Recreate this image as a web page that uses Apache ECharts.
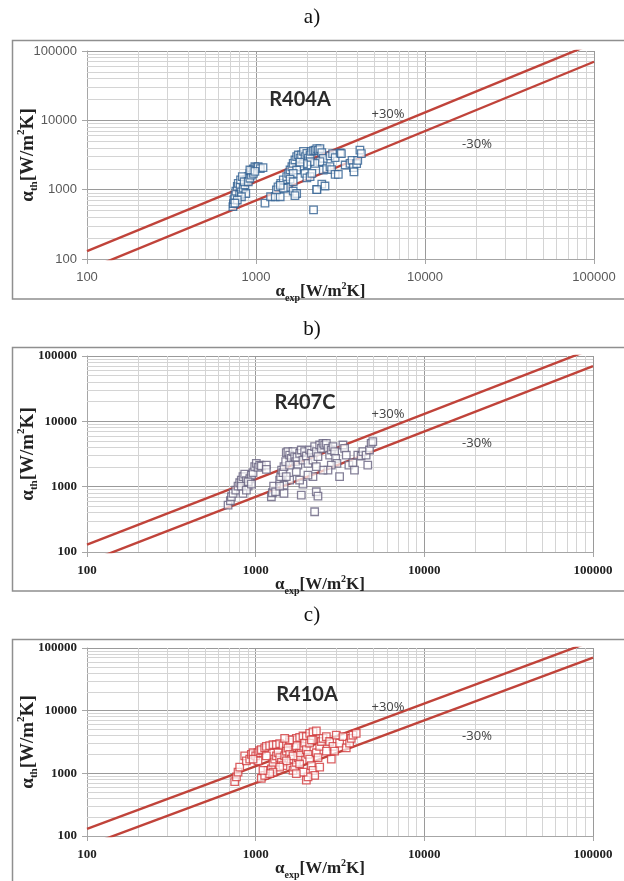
<!DOCTYPE html>
<html>
<head>
<meta charset="utf-8">
<script src="https://cdn.jsdelivr.net/npm/echarts@6/dist/echarts.min.js"></script>
<style>
  html, body { margin: 0; padding: 0; background: #fff; }
  #chart { width: 624px; height: 881px; }
</style>
</head>
<body>
<div id="chart"></div>
<script>
// axis ticks (both axes, log10)
var tickValues = [100, 1000, 10000, 100000];
var minorFactors = [2, 3, 4, 5, 6, 7, 8, 9];
// deviation bands
var bandFactors = [1.3, 0.7];
var bandLabels = ["+30%", "-30%"];
var panelLetters = ["a)", "b)", "c)"];
var refrigerants = ["R404A", "R407C", "R410A"];

// [alpha_exp, alpha_th]
var r404a = [
  [730,570],[735,630],[740,720],[750,830],[760,950],[775,1110],[785,1230],[805,1100],[800,840],[820,930],
  [840,1050],[860,1170],[880,1380],[900,1540],[920,1720],[940,1840],[965,2000],[985,2140],[1010,2080],[1030,2140],
  [1060,2010],[1100,2080],[810,1380],[830,1540],[850,1300],[900,1300],[920,1460],[940,1620],[965,1720],[870,880],
  [820,790],[775,710],[750,640],[920,1920],[985,1840],
  [1130,640],[1220,790],[1300,790],[1390,790],[1320,990],[1350,1100],[1400,1230],[1450,1380],[1480,1050],[1520,1540],
  [1560,1720],[1590,1920],[1630,2140],[1660,2390],[1700,2680],[1740,2990],[1780,3160],[1820,2850],[1860,3170],[1910,3560],
  [1950,3000],[2000,3340],[2040,2850],[2090,3170],[2130,3560],[2190,3640],[2240,3720],[2290,3900],[2340,3720],[2390,3900],
  [2450,3420],[2500,2820],[2390,2530],[2230,2390],[2090,2540],[2000,2280],[1910,2380],[1820,2140],[1740,1920],[1660,1720],
  [1590,1420],[1550,1080],[1660,950],[1740,880],[1700,820],[1950,1720],[2000,1480],[2090,1540],[2140,1720],[2290,1010],
  [2450,1200],[2560,1130],[2500,1920],[2620,2010],[2740,2150],[2800,1950],[2940,1660],[3070,1660],[2740,3080],[2840,3300],
  [2940,2900],[3150,3380],[3200,3300],[3370,2270],[3600,2400],[3700,2650],[3770,2080],[3800,1800],[3940,2380],[4000,2650],
  [4120,3720],[4200,3300],[2190,510],[2290,1000],[1820,2500],[1660,1300],[1450,1050],[1390,1150]
];
var r407c = [
  [686,522],[708,609],[718,701],[735,789],[762,887],[786,1021],[804,1148],[822,1262],[841,1420],[861,1560],
  [881,1233],[902,1021],[923,1322],[943,1505],[965,1635],[987,2020],[1009,2270],[1033,1975],[1057,2140],[1081,2070],
  [1157,2140],[1157,1840],[841,789],[822,1021],[881,887],[902,1190],[943,1096],
  [1239,701],[1256,807],[1278,1021],[1312,836],[1387,1262],[1406,1420],[1425,1795],[1452,1635],[1472,2020],[1506,2410],
  [1519,3310],[1553,3430],[1590,3050],[1626,2710],[1663,3430],[1702,2875],[1726,2410],[1757,2805],[1780,2140],[1822,3230],
  [1864,3640],[1907,2555],[1951,3430],[1996,2945],[2042,2270],[2089,3640],[2137,3230],[2186,2555],[2237,4095],[2288,3430],
  [2340,2875],[2394,4340],[2450,3860],[2506,4600],[2564,4340],[2623,4600],[2683,3860],[2745,3050],[2808,3640],[2873,4095],
  [2939,3430],[2980,2710],[3034,2270],[2808,2140],[2683,1795],[2506,1795],[2288,2020],[2186,1420],[2042,1505],[1907,1096],
  [1822,1262],[1741,1693],[1590,1262],[1519,1420],[1472,1058],[2288,836],[2340,717],[1864,743],[1472,789],[1387,1021],
  [3145,1420],[3291,4340],[3367,3860],[3444,3050],[3570,2140],[3767,2325],[3854,1795],[4033,3050],[4220,2945],[4317,3430],
  [4517,3050],[4621,2140],[4728,3640],[4837,4600],[4948,4875],[2237,413],[1590,2140]
];
var r410a = [
  [751,735],[769,878],[786,1048],[804,1252],[861,1895],[881,1585],[922,1683],[943,2010],[965,2130],[1000,1895],
  [1032,2130],[1056,2310],[1080,2395],[1131,2540],[1157,2695],[1211,2760],[1267,2860],[1326,2860],[1388,2965],[1452,2760],
  [1520,2860],[1591,3105],[1665,3415],[1742,3620],[1823,3755],[1908,3940],[1997,3850],[2090,4330],[2187,4590],[2289,4750],
  [1080,828],[1131,931],[1183,1112],[1239,1180],[1267,1495],[1296,1683],[1326,1895],[1357,2130],[1388,1785],[1420,1495],
  [1452,1328],[1486,1895],[1520,2260],[1555,2540],[1591,2010],[1627,1683],[1665,1112],[1703,1252],[1742,1495],[1783,1785],
  [1823,2130],[1865,2540],[1908,2695],[1952,3035],[1997,2395],[2043,2010],[2090,1683],[2138,1328],[2187,1112],[2238,931],
  [1997,780],[2043,878],[1908,1048],[1823,1410],[1742,988],[1665,1895],[1520,1585],[1388,1252],[1267,1048],[1211,988],
  [1105,1112],[2289,2130],[2396,2695],[2451,3220],[2508,3620],[2624,3850],[2745,3220],[2873,2695],[2939,2260],[3006,4080],
  [3146,3035],[3292,3850],[3444,2540],[3604,3035],[3686,3620],[3771,4080],[3946,4330],[2808,1683],[2624,2260],[2396,1252],
  [2187,3415],[2090,3035],[1742,2760],[1591,3415],[1486,3620],[1157,1895],[1032,1585],[965,1683],[2138,3415],[2342,1785]
];
var panelData = [r404a, r407c, r410a];

var chart = echarts.init(document.getElementById("chart"));

var panels = [
  { grid: { left: 87, top: 51, width: 507, height: 208 }, frame: [12.5, 40.5, 626, 258.5], letterTop: 2,
    markColor: "#2f5f91", labelFont: "Liberation Sans", labelWeight: "normal", labelColor: "#595959",
    tag: [300, 100], plus: [388, 114], minus: [477, 144] },
  { grid: { left: 87, top: 356, width: 506, height: 196 }, frame: [12.5, 347.5, 626, 243.5], letterTop: 314,
    markColor: "#676280", labelFont: "Liberation Serif", labelWeight: "bold", labelColor: "#222",
    tag: [305, 403], plus: [388, 414], minus: [477, 443] },
  { grid: { left: 87, top: 648, width: 506, height: 195 }, frame: [12.5, 639.5, 626, 245], letterTop: 600,
    markColor: "#d23a3c", labelFont: "Liberation Serif", labelWeight: "bold", labelColor: "#222",
    tag: [307, 695], plus: [388, 707], minus: [477, 736] }
];

var minorValues = [];
tickValues.slice(0, 3).forEach(function (d) {
  minorFactors.forEach(function (f) { minorValues.push(d * f); });
});

function axisName(sub) {
  return "{a|α}{s|" + sub + "}{a|[W/m}{p|2}{a|K]}";
}
function nameRich(size) {
  var base = { fontFamily: "Liberation Serif", fontWeight: "bold", color: "#222" };
  return {
    a: Object.assign({ fontSize: size, lineHeight: size + 5 }, base),
    s: Object.assign({ fontSize: Math.round(size * 0.6), verticalAlign: "bottom" }, base),
    p: Object.assign({ fontSize: Math.round(size * 0.6), verticalAlign: "top" }, base)
  };
}
function plainLabel(v) {
  return String(Math.round(v));
}

var grids = [], xAxes = [], yAxes = [], series = [], titles = [], graphics = [];

panels.forEach(function (p, i) {
  grids.push(p.grid);
  titles.push({
    text: panelLetters[i], left: "center", top: p.letterTop,
    textStyle: { fontFamily: "Liberation Serif", fontWeight: "normal", fontSize: 21, color: "#111" }
  });
  var labelStyle = { fontFamily: p.labelFont, fontWeight: p.labelWeight, fontSize: 13, color: p.labelColor, formatter: plainLabel };
  xAxes.push({
    gridIndex: i, type: "log", logBase: 10, min: 100, max: 100000,
    name: axisName("exp"), nameLocation: "middle", nameGap: 22, nameMoveOverlap: false,
    nameTextStyle: { rich: nameRich(17), padding: [0, 40, 0, 0] },
    axisLine: { show: true, lineStyle: { color: "#a6a6a6" } },
    axisTick: { show: true, length: 5, lineStyle: { color: "#a6a6a6" } },
    axisLabel: Object.assign({ margin: 12 }, labelStyle),
    splitLine: { show: true, lineStyle: { color: "#9a9a9a", width: 1 } }
  });
  yAxes.push({
    gridIndex: i, type: "log", logBase: 10, min: 100, max: 100000,
    name: axisName("th"), nameLocation: "middle", nameGap: 47, nameMoveOverlap: false,
    nameTextStyle: { rich: nameRich(19) },
    axisLine: { show: true, lineStyle: { color: "#a6a6a6" } },
    axisTick: { show: true, length: 5, lineStyle: { color: "#a6a6a6" } },
    axisLabel: Object.assign({ margin: 10 }, labelStyle),
    splitLine: { show: true, lineStyle: { color: "#9a9a9a", width: 1 } }
  });

  // minor grid lines
  var minorLines = [];
  minorValues.forEach(function (v) {
    minorLines.push({ xAxis: v });
    minorLines.push({ yAxis: v });
  });
  series.push({
    type: "line", xAxisIndex: i, yAxisIndex: i, data: [], z: 1, silent: true,
    markLine: {
      silent: true, symbol: "none", animation: false, z: 1,
      label: { show: false },
      lineStyle: { color: "#d4d4d4", width: 1, type: "solid" },
      data: minorLines
    }
  });

  // +30% / -30% lines
  bandFactors.forEach(function (f) {
    series.push({
      type: "line", xAxisIndex: i, yAxisIndex: i, z: 3, silent: true,
      symbol: "none", clip: true, animation: false,
      lineStyle: { color: "#c0433a", width: 2.4 },
      data: [[100, 100 * f], [100000, 100000 * f]]
    });
  });

  series.push({
    type: "scatter", xAxisIndex: i, yAxisIndex: i, z: 4, animation: false,
    symbol: "rect", symbolSize: 7.5,
    itemStyle: { color: "rgba(255,255,255,0.85)", borderColor: p.markColor, borderWidth: 1.3 },
    data: panelData[i]
  });

  graphics.push({
    type: "rect", silent: true, z: -1,
    shape: { x: p.frame[0], y: p.frame[1], width: p.frame[2], height: p.frame[3] },
    style: { fill: "none", stroke: "#8f8f8f", lineWidth: 1.5 }
  });
  graphics.push({
    type: "text", x: p.tag[0], y: p.tag[1], z: 10,
    style: {
      text: refrigerants[i], font: "bold 20px Lato", fill: "#2b2b2b",
      align: "center", verticalAlign: "middle",
      shadowColor: "rgba(0,0,0,0.35)", shadowBlur: 6, shadowOffsetY: 3
    }
  });
  graphics.push({
    type: "text", x: p.plus[0], y: p.plus[1], z: 10,
    style: { text: bandLabels[0], font: "13px 'Open Sans'", fill: "#444", align: "center", verticalAlign: "middle" }
  });
  graphics.push({
    type: "text", x: p.minus[0], y: p.minus[1], z: 10,
    style: { text: bandLabels[1], font: "13px 'Open Sans'", fill: "#444", align: "center", verticalAlign: "middle" }
  });
});

var option = {
  backgroundColor: "#fff",
  animation: false,
  title: titles,
  grid: grids,
  xAxis: xAxes,
  yAxis: yAxes,
  series: series,
  graphic: graphics
};
chart.setOption(option);
</script>
</body>
</html>
